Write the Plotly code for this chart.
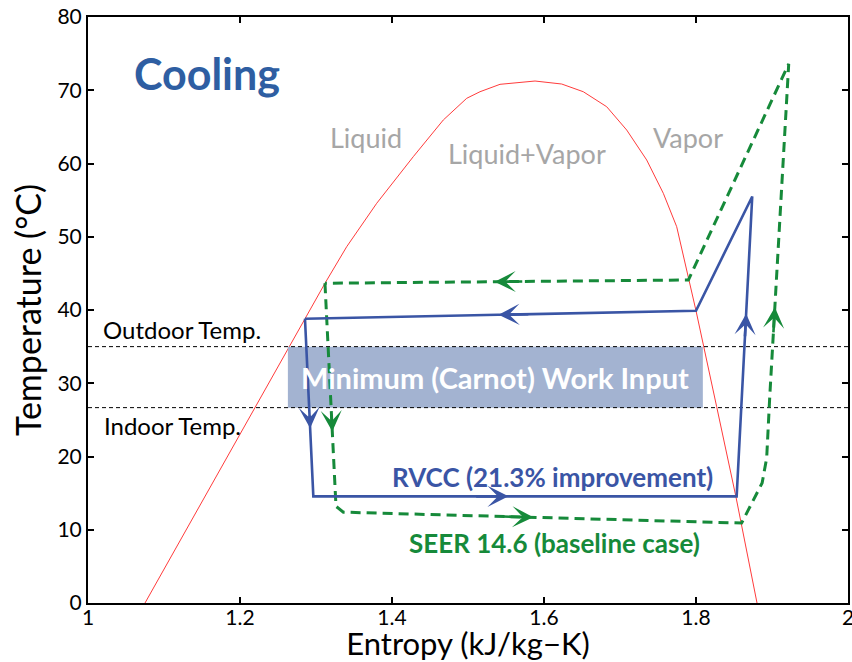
import plotly.graph_objects as go

# Saturation dome (entropy kJ/kg-K, temperature C)
dome_s = [1.075, 1.2197, 1.2855, 1.3118, 1.3404, 1.3799, 1.428, 1.4675, 1.4983, 1.5158, 1.5421,
          1.5882, 1.6233, 1.6517, 1.6825, 1.7088, 1.7351, 1.757, 1.7746, 1.7899, 1.80, 1.8272,
          1.8526, 1.8803]
dome_T = [0, 26.62, 38.77, 43.65, 48.64, 54.57, 60.93, 65.94, 68.9, 69.8, 70.81,
          71.26, 70.85, 69.8, 67.75, 64.57, 60.48, 55.93, 51.37, 44.55, 39.9, 26.8,
          14.47, 0]

# RVCC cycle
rvcc_s = [1.2855, 1.2965, 1.8535, 1.874, 1.800, 1.2855]
rvcc_T = [38.8, 14.56, 14.56, 55.5, 39.9, 38.8]
# arrows: (segment start index, fraction along segment)
rvcc_arrows = [(0, 0.617), (1, 0.461), (2, 0.609), (4, 0.505)]

# Baseline SEER 14.6 cycle
seer_s = [1.3118, 1.3263, 1.336, 1.860, 1.887, 1.893, 1.897, 1.922, 1.790, 1.3118]
seer_T = [43.65, 13.2, 12.4, 10.92, 16.38, 19.8, 28.1, 73.6, 44.1, 43.65]
seer_arrows = [(0, 0.665), (2, 0.477), (6, 0.27), (8, 0.533)]

outdoor_T = 35.0
indoor_T = 26.67
carnot_s = [1.263, 1.809]

x_ticks = [1, 1.2, 1.4, 1.6, 1.8, 2]
y_ticks = [0, 10, 20, 30, 40, 50, 60, 70, 80]

BLUE = "#3a55a5"
GREEN = "#168a3a"
RED = "#ff3b3b"
GRAY = "#a6a6a6"
FONT = "Lato"

fig = go.Figure()

fig.add_trace(go.Scatter(x=dome_s, y=dome_T, mode="lines",
                         line=dict(color=RED, width=1), hoverinfo="skip"))

fig.add_trace(go.Scatter(x=[carnot_s[0], carnot_s[1], carnot_s[1], carnot_s[0], carnot_s[0]],
                         y=[indoor_T, indoor_T, outdoor_T, outdoor_T, indoor_T],
                         mode="lines", fill="toself", fillcolor="#a3b3d1",
                         line=dict(width=0, color="#a3b3d1"), hoverinfo="skip"))

for T in (outdoor_T, indoor_T):
    fig.add_trace(go.Scatter(x=[x_ticks[0], x_ticks[-1]], y=[T, T], mode="lines",
                             line=dict(color="black", width=1, dash="4px,3px"), hoverinfo="skip"))

fig.add_trace(go.Scatter(x=seer_s, y=seer_T, mode="lines",
                         line=dict(color=GREEN, width=3, dash="10px,6px"), hoverinfo="skip"))
fig.add_trace(go.Scatter(x=rvcc_s, y=rvcc_T, mode="lines",
                         line=dict(color=BLUE, width=2.6), hoverinfo="skip"))

annotations = []


def add_arrows(xs, ys, arrows, color):
    for i, f in arrows:
        x0, y0, x1, y1 = xs[i], ys[i], xs[i + 1], ys[i + 1]
        tx, ty = x0 + f * (x1 - x0), y0 + f * (y1 - y0)
        bx, by = x0 + (f - 0.08) * (x1 - x0), y0 + (f - 0.08) * (y1 - y0)
        annotations.append(dict(x=tx, y=ty, ax=bx, ay=by, xref="x", yref="y",
                                axref="x", ayref="y", text="", showarrow=True,
                                arrowhead=3, arrowsize=1.35, arrowwidth=2.6,
                                arrowcolor=color))


add_arrows(seer_s, seer_T, seer_arrows, GREEN)
add_arrows(rvcc_s, rvcc_T, rvcc_arrows, BLUE)


def label(x, y, text, size, color, bold=False, xanchor="center"):
    t = "<b>%s</b>" % text if bold else text
    annotations.append(dict(x=x, y=y, xref="x", yref="y", text=t, showarrow=False,
                            xanchor=xanchor, yanchor="middle",
                            font=dict(family=FONT, size=size, color=color)))


label(1.157, 72.3, "Cooling", 43, "#2e5ea2", bold=True)
label(1.366, 63.6, "Liquid", 27, GRAY)
label(1.578, 61.3, "Liquid+Vapor", 27, GRAY)
label(1.79, 63.6, "Vapor", 27, GRAY)
label(1.017, 37.3, "Outdoor Temp.", 24, "black", xanchor="left")
label(1.019, 24.3, "Indoor Temp.", 24, "black", xanchor="left")
label((carnot_s[0] + carnot_s[1]) / 2, (indoor_T + outdoor_T) / 2,
      "Minimum (Carnot) Work Input", 29, "white", bold=True)
label(1.611, 17.2, "RVCC (21.3% improvement)", 26, BLUE, bold=True)
label(1.614, 8.2, "SEER 14.6 (baseline case)", 26, GREEN, bold=True)

axis_common = dict(showline=True, linecolor="black", linewidth=2, mirror="ticks",
                   ticks="inside", ticklen=6, tickwidth=2, tickcolor="black",
                   showgrid=False, zeroline=False, automargin=False,
                   ticklabeloverflow="allow",
                   tickfont=dict(family=FONT, size=21, color="black"))

fig.update_layout(
    width=852, height=662,
    margin=dict(l=88, r=4, t=17, b=59),
    paper_bgcolor="white", plot_bgcolor="white",
    showlegend=False,
    annotations=annotations,
    xaxis=dict(range=[1, 2], tickvals=x_ticks, ticktext=[str(v) for v in x_ticks],
               ticklabelstandoff=-5,
               title=dict(text="Entropy (kJ/kg\u2212K)", standoff=10,
                          font=dict(family=FONT, size=31, color="black")),
               **axis_common),
    yaxis=dict(range=[0, 80], tickvals=y_ticks,
               title=dict(text="Temperature (\u00b0C)", standoff=6,
                          font=dict(family=FONT, size=34, color="black")),
               **axis_common),
)

fig.write_html("out.html", config={"displayModeBar": False},
               post_script="document.body.style.margin='0';")
